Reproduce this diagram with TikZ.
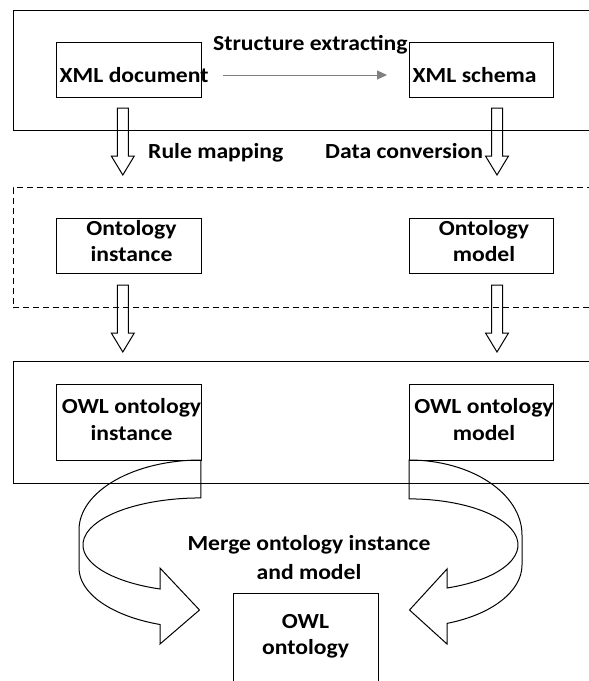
\documentclass[tikz,border=0pt]{standalone}
\usepackage{fontspec}
\setmainfont{Carlito}[FakeStretch=1.1]
\usetikzlibrary{arrows.meta}
\begin{document}
\begin{tikzpicture}[x=1pt,y=-1pt,
  txt/.style={inner sep=0pt, font=\fontsize{21.5}{26}\selectfont\bfseries},
  txtc/.style={txt, align=center, anchor=base},
  box/.style={draw, line width=1.1pt, inner sep=0pt, anchor=north west},
  frame/.style={draw, line width=1.1pt, inner sep=0pt, anchor=north west, minimum width=600pt},
  dashframe/.style={frame, dash pattern=on 6pt off 4pt},
  band/.style={draw, line width=1pt, line join=miter},
  grayarrow/.style={draw=black!50, line width=1pt, -{Triangle[length=10pt,width=9pt,fill=black!50]}},
  barrow/.pic={\draw[line width=1pt] (-5.5,0) -- (-5.5,48) -- (-11.5,48) -- (0,67) -- (11.5,48) -- (5.5,48) -- (5.5,0) -- cycle;}
]
\clip (0,0) rectangle (589,681);
\fill[white] (0,0) rectangle (589,681);

% frames
\node[frame, minimum height=120pt] (f1) at (12.5,10) {};
\node[dashframe, minimum height=120pt] (f2) at (12.5,187) {};
\node[frame, minimum height=122pt] (f3) at (12.5,361) {};

% boxes
\node[box, minimum width=145pt, minimum height=55.5pt] (xmldoc) at (56,41.7) {};
\node[box, minimum width=144pt, minimum height=55.5pt] (xmlschema) at (409,41.7) {};
\node[box, minimum width=145pt, minimum height=55pt] (ontinst) at (56,218) {};
\node[box, minimum width=144pt, minimum height=55pt] (ontmodel) at (409,218) {};
\node[box, minimum width=145pt, minimum height=76.5pt] (owlinst) at (56,383.5) {};
\node[box, minimum width=144pt, minimum height=76.5pt] (owlmodel) at (409,383.5) {};
\node[box, minimum width=145pt, minimum height=120pt] (owl) at (233,593) {};

% texts
\node[txt, anchor=base west] (t1) at (59.5,82.5) {XML document};
\node[txt, anchor=base west] (t2) at (412.5,82.5) {XML schema};
\node[txt, anchor=base west] (t3) at (213,50.5) {Structure extracting};
\node[txt, anchor=base west] (t4) at (148,158.3) {Rule mapping};
\node[txt, anchor=base west] (t5) at (325,158.3) {Data conversion};
\node[txtc] (t6) at (131.5,261) {Ontology\\instance};
\node[txtc] (t7) at (484,261) {Ontology\\model};
\node[txtc, font=\fontsize{21.5}{27}\selectfont\bfseries] (t8) at (131.5,440) {OWL ontology\\instance};
\node[txtc, font=\fontsize{21.5}{27}\selectfont\bfseries] (t9) at (484,440) {OWL ontology\\model};
\node[txtc, font=\fontsize{21.5}{29}\selectfont\bfseries] (t10) at (309,579) {Merge ontology instance\\and model};
\node[txtc] (t11) at (305.5,654) {OWL\\ontology};

% gray arrow
\coordinate (ga1) at (223,75);
\coordinate (ga2) at (387,75);
\draw[grayarrow] (ga1) -- (ga2);

% block arrows
\pic at (122.8,108) {barrow};
\pic at (497,108) {barrow};
\pic at (122.8,285) {barrow};
\pic at (497,285) {barrow};

% curved arrows
\draw[band] (201,460) arc[start angle=-90,end angle=-180,x radius=122,y radius=70]
  -- (79,568) arc[start angle=180,end angle=109.6,x radius=122,y radius=60]
  -- (160,644) -- (199.5,610) -- (160,568) -- (160,589)
  arc[start angle=110.3,end angle=270,x radius=118,y radius=47] -- cycle;
\draw[band] (409,460) arc[start angle=-90,end angle=0,x radius=113,y radius=75]
  -- (522,565) arc[start angle=0,end angle=70.3,x radius=113,y radius=62]
  -- (447,644) -- (409.5,610) -- (447,569) -- (447,588)
  arc[start angle=69.6,end angle=-90,x radius=109,y radius=46] -- cycle;
\end{tikzpicture}
\end{document}
